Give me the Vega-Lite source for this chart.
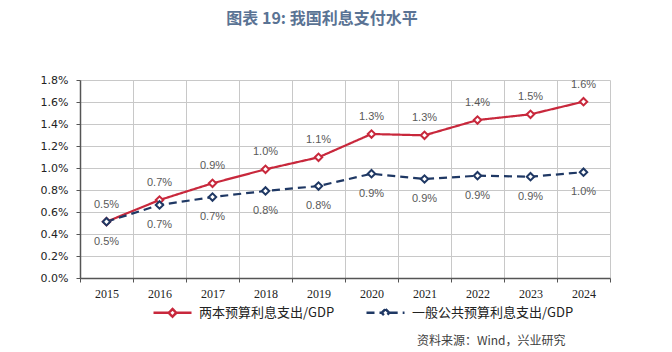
{
  "$schema": "https://vega.github.io/schema/vega-lite/v6.json",
  "width": 530,
  "height": 198,
  "autosize": "none",
  "padding": {"left": 80, "top": 80, "right": 62, "bottom": 74},
  "background": "white",
  "config": {"view": {"stroke": null}},
  "title": {
    "text": "图表 19: 我国利息支付水平",
    "font": "Noto Sans CJK SC",
    "fontSize": 16,
    "fontWeight": "bold",
    "color": "#5A7394",
    "anchor": "middle",
    "frame": "group",
    "dx": -23,
    "baseline": "alphabetic",
    "offset": 34
  },
  "data": {
    "values": [
      {"year": "2015", "series": "两本预算利息支出/GDP", "value": 0.00512},
      {"year": "2016", "series": "两本预算利息支出/GDP", "value": 0.00709},
      {"year": "2017", "series": "两本预算利息支出/GDP", "value": 0.00861},
      {"year": "2018", "series": "两本预算利息支出/GDP", "value": 0.00988},
      {"year": "2019", "series": "两本预算利息支出/GDP", "value": 0.01097},
      {"year": "2020", "series": "两本预算利息支出/GDP", "value": 0.01309},
      {"year": "2021", "series": "两本预算利息支出/GDP", "value": 0.01297},
      {"year": "2022", "series": "两本预算利息支出/GDP", "value": 0.01436},
      {"year": "2023", "series": "两本预算利息支出/GDP", "value": 0.01488},
      {"year": "2024", "series": "两本预算利息支出/GDP", "value": 0.01603},
      {"year": "2015", "series": "一般公共预算利息支出/GDP", "value": 0.00512},
      {"year": "2016", "series": "一般公共预算利息支出/GDP", "value": 0.00664},
      {"year": "2017", "series": "一般公共预算利息支出/GDP", "value": 0.00736},
      {"year": "2018", "series": "一般公共预算利息支出/GDP", "value": 0.00791},
      {"year": "2019", "series": "一般公共预算利息支出/GDP", "value": 0.00836},
      {"year": "2020", "series": "一般公共预算利息支出/GDP", "value": 0.00948},
      {"year": "2021", "series": "一般公共预算利息支出/GDP", "value": 0.00900},
      {"year": "2022", "series": "一般公共预算利息支出/GDP", "value": 0.00930},
      {"year": "2023", "series": "一般公共预算利息支出/GDP", "value": 0.00921},
      {"year": "2024", "series": "一般公共预算利息支出/GDP", "value": 0.00962}
    ]
  },
  "encoding": {
    "x": {
      "field": "year",
      "type": "ordinal",
      "scale": {"paddingInner": 0, "paddingOuter": 0},
      "axis": {
        "title": "资料来源：Wind，兴业研究",
        "titleFont": "Noto Sans CJK SC",
        "titleFontSize": 12,
        "titleFontWeight": "normal",
        "titleColor": "#404040",
        "titleAnchor": "end",
        "titleAlign": "right",
        "titleBaseline": "middle",
        "titleX": 485,
        "titleY": 62,
        "labelAngle": 0,
        "labelFont": "Liberation Serif",
        "labelFontSize": 12,
        "labelColor": "#222222",
        "labelPadding": 6,
        "tickBand": "extent",
        "tickSize": 4,
        "tickColor": "#555555",
        "domainColor": "#555555",
        "domainWidth": 1.5,
        "grid": true,
        "gridColor": "#c8c8c8",
        "gridWidth": 1
      }
    },
    "y": {
      "field": "value",
      "type": "quantitative",
      "scale": {"domain": [0, 0.018], "nice": false},
      "axis": {
        "title": null,
        "values": [0, 0.002, 0.004, 0.006, 0.008, 0.01, 0.012, 0.014, 0.016, 0.018],
        "format": ".1%",
        "labelFont": "DejaVu Sans",
        "labelFontSize": 11,
        "labelColor": "#222222",
        "labelPadding": 8,
        "tickSize": 4,
        "tickColor": "#555555",
        "domainColor": "#555555",
        "domainWidth": 1.5,
        "gridColor": "#c8c8c8",
        "gridWidth": 1
      }
    },
    "color": {
      "field": "series",
      "type": "nominal",
      "scale": {
        "domain": ["两本预算利息支出/GDP", "一般公共预算利息支出/GDP"],
        "range": ["#C8283C", "#1F3864"]
      },
      "legend": {
        "title": null,
        "orient": "none",
        "legendX": 72,
        "legendY": 212,
        "direction": "horizontal",
        "symbolType": "M-1,0L-0.22,0M0.22,0L1,0M0,-0.2L0.2,0L0,0.2L-0.2,0Z",
        "symbolSize": 1444,
        "symbolStrokeWidth": 2.5,
        "symbolFillColor": "white",
        "labelFont": "Noto Sans CJK SC",
        "labelFontSize": 13,
        "labelLimit": 400,
        "labelColor": "#222222",
        "labelOffset": 6,
        "columnPadding": 26
      }
    }
  },
  "layer": [
    {
      "mark": {"type": "line", "strokeWidth": 2.2},
      "encoding": {
        "strokeDash": {
          "field": "series",
          "type": "nominal",
          "scale": {
            "domain": ["两本预算利息支出/GDP", "一般公共预算利息支出/GDP"],
            "range": [[1, 0], [8, 5]]
          },
          "legend": null
        }
      }
    },
    {
      "mark": {"type": "point", "shape": "diamond", "filled": false, "fill": "white", "fillOpacity": 1, "strokeWidth": 2, "size": 55, "opacity": 1}
    },
    {
      "transform": [{"filter": "datum.series === '两本预算利息支出/GDP'"}],
      "mark": {"type": "text", "dy": -17, "font": "Liberation Sans", "fontSize": 11},
      "encoding": {"text": {"field": "value", "type": "quantitative", "format": ".1%"}, "color": {"value": "#595959"}}
    },
    {
      "transform": [{"filter": "datum.series === '一般公共预算利息支出/GDP'"}],
      "mark": {"type": "text", "dy": 20, "font": "Liberation Sans", "fontSize": 11},
      "encoding": {"text": {"field": "value", "type": "quantitative", "format": ".1%"}, "color": {"value": "#595959"}}
    }
  ]
}
